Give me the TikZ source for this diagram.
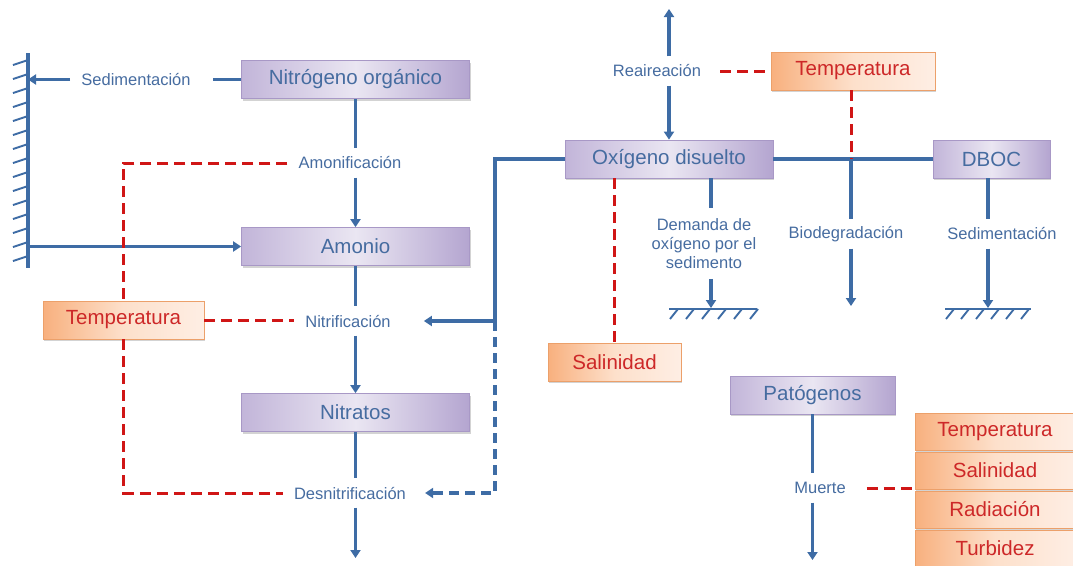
\documentclass[tikz,border=0pt]{standalone}
\usepackage{fontspec}
\setmainfont{Liberation Sans}
\usetikzlibrary{arrows.meta,calc,shadows}
\definecolor{lineblue}{RGB}{62,108,165}
\definecolor{textblue}{RGB}{70,108,160}
\definecolor{dashred}{RGB}{208,22,22}
\definecolor{redtext}{RGB}{205,40,40}
\definecolor{purA}{RGB}{194,181,217}
\definecolor{purB}{RGB}{234,230,242}
\definecolor{purC}{RGB}{180,165,208}
\definecolor{purE}{RGB}{168,152,198}
\definecolor{orA}{RGB}{248,176,126}
\definecolor{orB}{RGB}{253,224,203}
\definecolor{orC}{RGB}{254,238,228}
\definecolor{orE}{RGB}{236,160,106}
\tikzset{
  bl/.style={draw=lineblue, line width=3.1pt},
  bd/.style={draw=lineblue, line width=3.1pt, dash pattern=on 10pt off 6pt},
  rd/.style={draw=dashred, line width=3pt, dash pattern=on 11pt off 6pt},
  arr/.style={-{Triangle[length=8pt,width=10pt]}},
  hatch/.style={draw=lineblue, line width=1.9pt},
  pbox/.style={rectangle, draw=purE, line width=0.8pt, left color=purA, right color=purC, middle color=purB,
    text=textblue, font=\fontsize{20.5}{24}\selectfont, minimum height=38pt, inner sep=0pt,
    drop shadow={shadow xshift=1pt, shadow yshift=-2pt, opacity=0.35, fill=gray}},
  obox/.style={rectangle, draw=orE, line width=0.8pt, left color=orA, right color=orC, middle color=orB,
    text=redtext, font=\fontsize{20.5}{24}\selectfont, minimum height=38pt, inner sep=0pt,
    drop shadow={shadow xshift=1pt, shadow yshift=-2pt, opacity=0.35, fill=gray}},
  lbl/.style={rectangle, text=textblue, font=\fontsize{16.5}{19}\selectfont, inner xsep=11pt, inner ysep=0pt, minimum height=29pt}
}
\begin{document}
\begin{tikzpicture}[x=1pt,y=-1pt]
\useasboundingbox (0,0) rectangle (1073,565);

% ---------------- nitrogen column ----------------
\node[pbox, minimum width=228pt] (nit) at (355.5,79.5) {Nitrógeno orgánico};
\node[pbox, minimum width=228pt] (amo) at (355.5,246.5) {Amonio};
\node[pbox, minimum width=228pt] (nitr) at (355.5,412.5) {Nitratos};
\node[obox, minimum width=161pt] (tL) at (123.5,320) {Temperatura};

\node[lbl] (sedL) at (136,79.5) {Sedimentación};
\node[lbl] (amf) at (350,163) {Amonificación};
\node[lbl] (nif) at (348,321) {Nitrificación};
\node[lbl] (desn) at (350,493) {Desnitrificación};

% wall
\coordinate (wt) at (28,53);
\coordinate (wb) at (28,268);
\draw[bl] (wt) -- (wb);
\foreach \k in {0,...,14}{
  \draw[hatch] ($(wt)+(0,7+14*\k)$) -- ++(-15,5);
}
\draw[bl,arr] (sedL.west) -- (sedL.west -| wt);
\draw[bl] (nit.west) -- ([xshift=11pt]sedL.east);
\draw[bl,arr] (amo.west -| wt) -- (amo.west);

% vertical chain
\coordinate (nEnd) at (355.5,558);
\draw[bl] (nit.south) -- (nit.south |- amf.north);
\draw[bl,arr] (nit.south |- amf.south) -- (amo.north);
\draw[bl] (amo.south) -- (amo.south |- nif.north);
\draw[bl,arr] (amo.south |- nif.south) -- (nitr.north);
\draw[bl] (nitr.south) -- (nitr.south |- desn.north);
\draw[bl,arr] (nitr.south |- desn.south) -- (nEnd);

% temperature dashes
\draw[rd] (amf.west) -| (tL.north);
\draw[rd] (tL.south) |- (desn.west);
\draw[rd] (tL.east) -- (tL.east -| nif.west);

% ---------------- oxygen ----------------
\node[pbox, minimum width=208pt] (oxi) at (669,159) {Oxígeno disuelto};
\node[pbox, minimum width=117pt] (dboc) at (991.5,159) {DBOC};
\node[obox, minimum width=164pt] (tT) at (853,71) {Temperatura};
\node[obox, minimum width=133pt] (sal) at (614.5,362) {Salinidad};

\node[lbl] (reL) at (657,71) {Reaireación};
\node[lbl] (bioL) at (846,234) {Biodegradación};
\node[lbl] (sedR) at (1002,234) {Sedimentación};
\node[lbl, align=center, inner ysep=10pt] (dem) at (704,243.5) {Demanda de\\oxígeno por el\\sedimento};

\coordinate (jn) at (495,321);
\draw[bl,arr] (oxi.west) -| (jn) -- ([xshift=22pt]nif.east);
\draw[bd,arr] (jn) |- ([xshift=8pt]desn.east);

% reaeration
\coordinate (rTop) at (669,9);
\draw[bl,arr] (oxi.north |- reL.north) -- (rTop);
\draw[bl,arr] (oxi.north |- reL.south) -- (oxi.north);
\draw[rd] ([xshift=8pt]reL.east) -- (reL.east -| tT.west);

% oxygen - DBOC line
\draw[bl] (oxi.east) -- (dboc.west);
\coordinate (bj) at (851,159);
\draw[rd] (tT.south -| bj) -- (bj);
\coordinate (bioEnd) at (851,306);
\draw[bl] (bj) -- (bj |- bioL.north);
\draw[bl,arr] (bj |- bioL.south) -- (bioEnd);

% DBOC sedimentation
\coordinate (g2) at (988,309);
\draw[bl] (dboc.south -| g2) -- (g2 |- sedR.north);
\draw[bl,arr] (g2 |- sedR.south) -- ([yshift=1pt]g2);
\draw[hatch] ([xshift=-43pt]g2) -- ([xshift=43pt]g2);
\foreach \k in {0,...,5}{
  \draw[hatch] ($(g2)+(-34+15*\k,0)$) -- ++(-8,10);
}

% sediment oxygen demand
\coordinate (g1) at (711,309);
\draw[bl] (oxi.south -| g1) -- (g1 |- dem.north);
\draw[bl,arr] (g1 |- dem.south) -- ([yshift=1pt]g1);
\draw[hatch] ([xshift=-42pt]g1) -- ([xshift=46pt]g1);
\foreach \k in {0,...,5}{
  \draw[hatch] ($(g1)+(-33+16*\k,0)$) -- ++(-8,10);
}

% salinity
\draw[rd] (oxi.south -| sal.north) -- (sal.north);

% ---------------- pathogens ----------------
\node[pbox, minimum width=165pt] (pat) at (812.5,395) {Patógenos};
\node[lbl] (mue) at (820,488) {Muerte};
\coordinate (pEnd) at (813,560);
\draw[bl] (pat.south) -- (pat.south |- mue.north);
\draw[bl,arr] (pat.south |- mue.south) -- (pat.south |- pEnd);

\node[obox, minimum width=160pt, minimum height=37pt] (s1) at (995,431.5) {Temperatura};
\node[obox, minimum width=160pt, minimum height=37pt] (s2) at (995,470.5) {Salinidad};
\node[obox, minimum width=160pt, minimum height=37pt] (s3) at (995,509.5) {Radiación};
\node[obox, minimum width=160pt, minimum height=37pt] (s4) at (995,548.5) {Turbidez};
\coordinate (sJ) at (915,489);
\draw[rd] ([xshift=10pt]mue.east) -- (mue.east -| sJ);
\end{tikzpicture}
\end{document}
